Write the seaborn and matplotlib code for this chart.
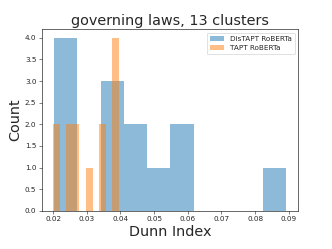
"""Import Packages"""
import numpy as np
import pandas as pd
import matplotlib
matplotlib.use('Agg')
import matplotlib.pyplot as plt
import seaborn as sns

"""Dunn index per run, read off the reference histogram"""
distapt_dunn = [0.0203, 0.0220, 0.0240, 0.0260,
                0.0360, 0.0380, 0.0395,
                0.0430, 0.0460,
                0.0520,
                0.0570, 0.0600,
                0.0893]
tapt_dunn = [0.0200, 0.0205,
             0.0245, 0.0250, 0.0265, 0.0270,
             0.0305,
             0.0345, 0.0350,
             0.0380, 0.0385, 0.0390, 0.0395]
labels = ["DisTAPT RoBERTa", "TAPT RoBERTa"]
title = "governing laws, 13 clusters"

sns.set_style("ticks")
plt.rcParams['font.family'] = ['DejaVu Sans']

fig, ax = plt.subplots(figsize=(6.4, 4.8), dpi=51.875)
sns.histplot(x=distapt_dunn, bins=10, color='C0', alpha=0.5, linewidth=0,
             label=labels[0], ax=ax)
sns.histplot(x=tapt_dunn, bins=10, color='C1', alpha=0.5, linewidth=0,
             label=labels[1], ax=ax)

ax.set_title(title, fontsize=20)
ax.set_xlabel("Dunn Index", fontsize=20)
ax.set_ylabel("Count", fontsize=20)
ax.set_yticks(np.arange(0, 4.01, 0.5))
ax.set_xticks(np.arange(0.02, 0.0901, 0.01))
ax.legend(loc='upper right')
for s in ax.spines.values():
    s.set_color('black')

fig.subplots_adjust(left=0.125, right=0.898, top=0.883, bottom=0.153)
fig.savefig("out.png")
